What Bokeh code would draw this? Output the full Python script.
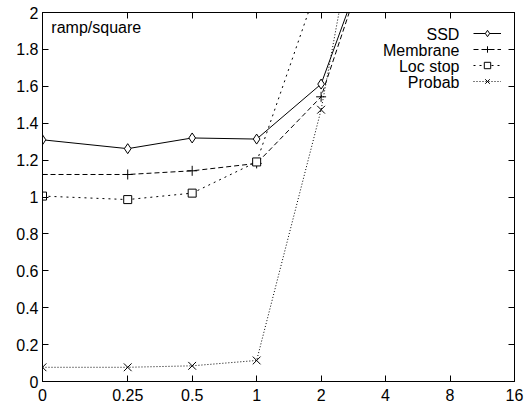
from bokeh.plotting import figure
from bokeh.models import (Range1d, FixedTicker, LinearAxis, Legend, LegendItem, Label,
                          CustomLabelingPolicy)
from bokeh.embed import file_html
from bokeh.resources import INLINE

# x categories (0 is drawn at 0.1 on the log2 axis)
x_labels = ["0", "0.25", "0.5", "1", "2", "4", "8", "16"]
x_pos = [0.1, 0.25, 0.5, 1, 2, 4, 8, 16]

ssd = [1.31, 1.262, 1.32, 1.314, 1.612, 2.57]
membrane = [1.122, 1.122, 1.142, 1.182, 1.543, 2.59]
locstop = [1.005, 0.986, 1.021, 1.19, 2.20]
probab = [0.077, 0.077, 0.085, 0.114, 1.473, 3.37]

y_ticks = [0, 0.2, 0.4, 0.6, 0.8, 1, 1.2, 1.4, 1.6, 1.8, 2]
y_labels = ["0", "0.2", "0.4", "0.6", "0.8", "1", "1.2", "1.4", "1.6", "1.8", "2"]

series_names = ["SSD", "Membrane", "Loc stop", "Probab"]

FONT = "Liberation Sans"
FS = "16px"

p = figure(width=524, height=409, x_axis_type="log",
           x_range=Range1d(0.1, 16), y_range=Range1d(0, 2),
           output_backend="svg", toolbar_location=None,
           min_border_left=42, min_border_right=10,
           min_border_top=12, min_border_bottom=28)
p.xgrid.visible = False
p.ygrid.visible = False
p.outline_line_color = "black"
p.outline_line_width = 1
p.background_fill_color = "white"
p.border_fill_color = "white"

hide_all = CustomLabelingPolicy(code="for (const i of indices) { indices.unset(i) } return indices")

def style_axis(ax, labels=True):
    ax.major_tick_in = 6
    ax.major_tick_out = 0
    ax.minor_tick_in = 0
    ax.minor_tick_out = 0
    ax.axis_line_color = "black"
    ax.major_tick_line_color = "black"
    ax.major_label_text_font = FONT
    ax.major_label_text_font_size = FS if labels else "2px"
    ax.major_label_text_color = "black"
    if not labels:
        ax.major_label_policy = hide_all

xa = p.xaxis[0]
xa.ticker = FixedTicker(ticks=x_pos)
xa.major_label_overrides = {v: l for v, l in zip(x_pos, x_labels)}
style_axis(xa)
xa.major_label_standoff = 7

ya = p.yaxis[0]
ya.ticker = FixedTicker(ticks=y_ticks)
ya.major_label_overrides = {v: l for v, l in zip(y_ticks, y_labels)}
style_axis(ya)
ya.major_label_standoff = 4

top = LinearAxis(ticker=FixedTicker(ticks=x_pos))
style_axis(top, labels=False)
top.major_label_standoff = 0
p.add_layout(top, "above")
right = LinearAxis(ticker=FixedTicker(ticks=y_ticks))
style_axis(right, labels=False)
right.major_label_standoff = 0
p.add_layout(right, "right")

items = []
specs = [
    (ssd, None, "diamond", 10),
    (membrane, "5 3", "cross", 10),
    (locstop, "2 4", "square", 8),
    (probab, "1 2", "x", 11),
]
for name, (vals, dash, marker, size) in zip(series_names, specs):
    xs = x_pos[:len(vals)]
    kw = {}
    if dash:
        kw["line_dash"] = dash
    r1 = p.line(xs, vals, line_color="black", line_width=1, **kw)
    r2 = p.scatter(xs, vals, marker=marker, size=size, line_color="black",
                   fill_color="white", fill_alpha=0 if marker in ("cross", "x") else 1,
                   line_width=1)
    items.append(LegendItem(label=" ", renderers=[r1, r2]))

leg = Legend(items=items, location="top_right", margin=13, padding=0,
             spacing=0, glyph_width=28, glyph_height=16, label_height=16,
             label_width=0, label_standoff=0, label_text_font_size="6px",
             background_fill_alpha=0, border_line_color=None)
p.add_layout(leg)

# legend texts (right-aligned, to the left of the samples)
for i, name in enumerate(series_names):
    yc = 34 + 16 * i
    p.add_layout(Label(x=8.85, y=(381 - yc) / 184.5, text=name,
                       text_align="right", text_baseline="middle",
                       text_font=FONT, text_font_size=FS, text_color="black"))

p.add_layout(Label(x=0.11, y=(381 - 27) / 184.5, text="ramp/square",
                   text_align="left", text_baseline="middle",
                   text_font=FONT, text_font_size=FS, text_color="black"))

open("out.html", "w").write(file_html(p, INLINE))
